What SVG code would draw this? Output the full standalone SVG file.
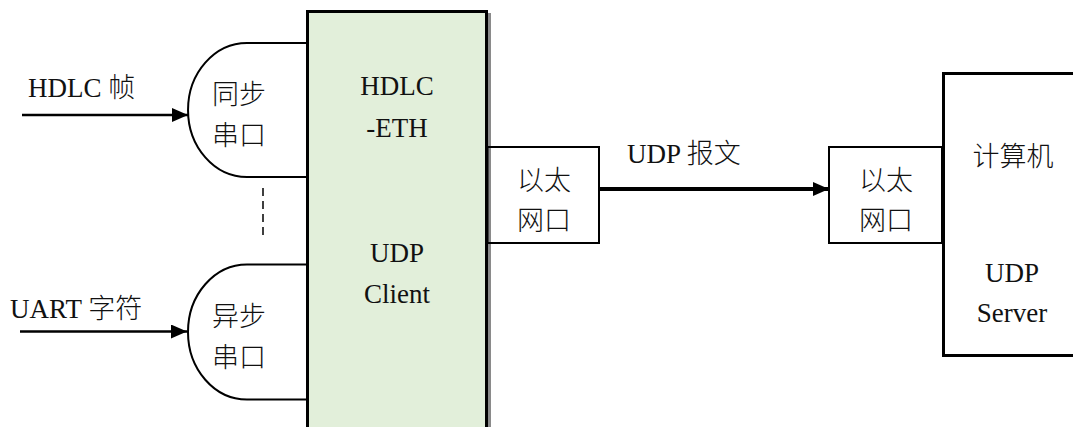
<svg xmlns="http://www.w3.org/2000/svg" width="1073" height="427" viewBox="0 0 1073 427">
<style>
text{font-family:'Liberation Serif','Noto Sans CJK SC',serif;font-size:27px;fill:#111}
.cjk{font-family:'Noto Sans CJK SC','Liberation Serif',sans-serif;font-weight:300}
.mid{text-anchor:middle}
.ln{fill:none;stroke:#000;stroke-width:2}
.arr{stroke:#000;stroke-width:2.5}
</style>
<defs>
<marker id="ah" markerWidth="16" markerHeight="14" refX="16" refY="7" orient="auto" markerUnits="userSpaceOnUse">
<path d="M0,0 L16,7 L0,14 Z" fill="#000"/>
</marker>
</defs>
<rect width="1073" height="427" fill="#fff"/>
<g id="main">
<rect x="310.5" y="14.5" width="179" height="430" fill="none" stroke="#8a8a8a" stroke-width="3"/>
<rect x="307.5" y="11.5" width="179" height="430" fill="#e2efda" stroke="#000" stroke-width="3"/>
<text class="mid" x="397" y="95">HDLC</text>
<text class="mid" x="397" y="137">-ETH</text>
<text class="mid" x="397" y="262">UDP</text>
<text class="mid" x="397" y="303">Client</text>
</g>
<g id="sync">
<path class="ln" d="M307,43 H247 A59,67 0 0 0 247,177 H307"/>
<text class="cjk" x="212" y="104">同步</text>
<text class="cjk" x="212" y="145">串口</text>
</g>
<g id="async">
<path class="ln" d="M307,264.5 H247 A59,67.5 0 0 0 247,399.5 H307"/>
<text class="cjk" x="212" y="326">异步</text>
<text class="cjk" x="212" y="367">串口</text>
</g>
<g id="eth1">
<rect class="ln" x="487.5" y="147" width="111.5" height="96"/>
<text class="cjk mid" x="544" y="190">以太</text>
<text class="cjk mid" x="544" y="230">网口</text>
</g>
<g id="eth2">
<rect class="ln" x="829" y="147" width="113" height="96"/>
<text class="cjk mid" x="886" y="190">以太</text>
<text class="cjk mid" x="886" y="230">网口</text>
</g>
<g id="computer">
<path d="M1076,73.5 H943.5 V355.5 H1076" fill="none" stroke="#000" stroke-width="3"/>
<text class="cjk mid" x="1013" y="166">计算机</text>
<text class="mid" x="1012" y="282">UDP</text>
<text class="mid" x="1012" y="322">Server</text>
</g>
<g id="connectors">
<line class="arr" x1="22" y1="115" x2="188" y2="115" marker-end="url(#ah)"/>
<line class="arr" x1="20" y1="331.5" x2="187" y2="331.5" marker-end="url(#ah)"/>
<line x1="599" y1="189" x2="829" y2="189" stroke="#000" stroke-width="4" marker-end="url(#ah)"/>
<line x1="263" y1="188" x2="263" y2="240" stroke="#000" stroke-width="1.5" stroke-dasharray="8,5"/>
</g>
<g id="labels">
<text x="28" y="97">HDLC <tspan class="cjk">帧</tspan></text>
<text x="10" y="318">UART <tspan class="cjk">字符</tspan></text>
<text x="627" y="163">UDP <tspan class="cjk">报文</tspan></text>
</g>
</svg>
